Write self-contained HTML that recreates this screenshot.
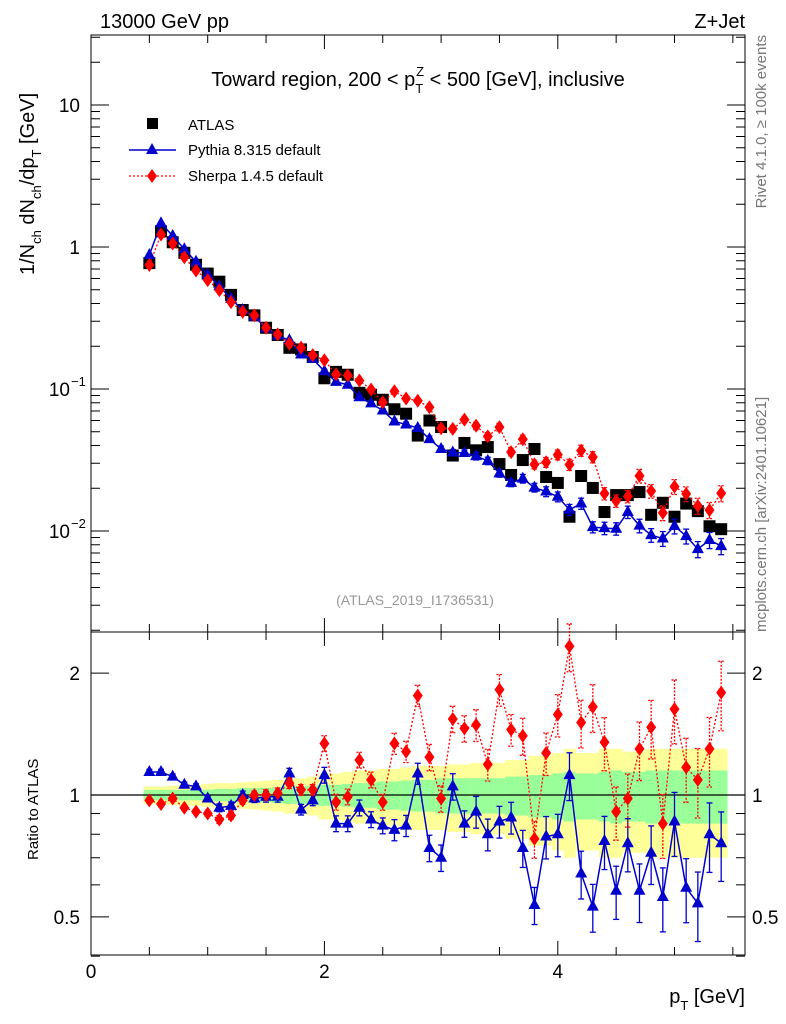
<!DOCTYPE html>
<html><head><meta charset="utf-8"><style>
html,body{margin:0;padding:0;background:#fff;}
svg{display:block;font-family:"Liberation Sans",sans-serif;}
</style></head><body>
<svg id="chart" width="786" height="1024" viewBox="0 0 786 1024" xmlns="http://www.w3.org/2000/svg">
<text x="100" y="28" font-size="20">13000 GeV pp</text>
<text x="745" y="28" font-size="20" text-anchor="end">Z+Jet</text>
<text x="418" y="86" font-size="20" text-anchor="middle">Toward region, 200 &lt; p<tspan dy="7" font-size="13">T</tspan><tspan dx="-7" dy="-17" font-size="13">Z</tspan><tspan dy="10"> &lt; 500 [GeV], inclusive</tspan></text>
<text x="415" y="605" font-size="14" fill="#999" text-anchor="middle">(ATLAS_2019_I1736531)</text>
<text transform="translate(766,35) rotate(-90)" font-size="15" fill="#777" text-anchor="end">Rivet 4.1.0, ≥ 100k events</text>
<text transform="translate(766,632) rotate(-90)" font-size="15" fill="#777">mcplots.cern.ch [arXiv:2401.10621]</text>
<text transform="translate(34,275) rotate(-90)" font-size="20">1/N<tspan dy="7" font-size="13">ch</tspan><tspan dy="-7"> dN</tspan><tspan dy="7" font-size="13">ch</tspan><tspan dy="-7">/dp</tspan><tspan dy="7" font-size="13">T</tspan><tspan dy="-7"> [GeV]</tspan></text>
<text transform="translate(38,860) rotate(-90)" font-size="15">Ratio to ATLAS</text>
<text x="745" y="1003" font-size="20" text-anchor="end">p<tspan dy="7" font-size="13">T</tspan><tspan dy="-7"> [GeV]</tspan></text>
<g id="ratioBands"></g>
<g id="grid"></g>
<g id="series"></g>
<g>
 <rect x="147" y="118" width="11" height="11" fill="#000"/>
 <text x="188" y="130" font-size="15">ATLAS</text>
 <line x1="129" y1="150" x2="176" y2="150" stroke="#00c" stroke-width="1.5"/>
 <polygon points="152,143 146,154 158,154" fill="#00c"/>
 <text x="188" y="155" font-size="15">Pythia 8.315 default</text>
 <line x1="129" y1="176" x2="176" y2="176" stroke="red" stroke-width="1.3" stroke-dasharray="2,2"/>
 <polygon points="152,169 157,176 152,183 147,176" fill="red"/>
 <text x="188" y="181" font-size="15">Sherpa 1.4.5 default</text>
</g>
</svg>
<script>
const pT = [0.5,0.6,0.7,0.8,0.9,1.0,1.1,1.2,1.3,1.4,1.5,1.6,1.7,1.8,1.9,2.0,2.1,2.2,2.3,2.4,2.5,2.6,2.7,2.8,2.9,3.0,3.1,3.2,3.3,3.4,3.5,3.6,3.7,3.8,3.9,4.0,4.1,4.2,4.3,4.4,4.5,4.6,4.7,4.8,4.9,5.0,5.1,5.2,5.3,5.4];
const atlas = [0.77,1.29,1.08,0.91,0.75,0.65,0.57,0.46,0.36,0.33,0.27,0.24,0.195,0.19,0.168,0.119,0.132,0.126,0.094,0.091,0.084,0.072,0.067,0.047,0.060,0.054,0.034,0.0417,0.037,0.039,0.0296,0.0248,0.0316,0.0378,0.024,0.0218,0.0126,0.0244,0.0201,0.0136,0.0179,0.0179,0.0188,0.013,0.0158,0.0126,0.0156,0.0138,0.0108,0.0103];
const ratioPythia = [1.14,1.14,1.11,1.06,1.05,0.98,0.93,0.94,1.0,0.98,0.99,0.99,1.13,0.92,0.97,1.12,0.85,0.85,0.93,0.87,0.84,0.82,0.84,1.13,0.74,0.70,1.05,0.85,0.91,0.80,0.86,0.88,0.74,0.535,0.79,0.80,1.12,0.64,0.53,0.77,0.58,0.76,0.58,0.72,0.56,0.86,0.59,0.54,0.80,0.76];
const ratioSherpa = [0.97,0.95,0.98,0.93,0.91,0.90,0.87,0.89,0.97,1.0,1.0,1.01,1.07,1.03,1.03,1.34,0.96,0.99,1.22,1.09,0.96,1.34,1.28,1.76,1.24,0.98,1.54,1.46,1.49,1.19,1.82,1.45,1.40,0.78,1.27,1.58,2.33,1.51,1.65,1.35,0.91,0.98,1.30,1.47,0.85,1.63,1.17,1.09,1.30,1.79];
const relErr = [0.01,0.01,0.01,0.01,0.01,0.01,0.015,0.015,0.015,0.015,0.02,0.02,0.02,0.02,0.02,0.03,0.03,0.03,0.03,0.03,0.03,0.04,0.04,0.04,0.05,0.05,0.05,0.05,0.06,0.06,0.06,0.06,0.07,0.07,0.08,0.08,0.09,0.09,0.09,0.1,0.1,0.1,0.11,0.11,0.12,0.12,0.12,0.13,0.13,0.13];
const bandGreen = [0.03,0.03,0.03,0.03,0.03,0.03,0.035,0.035,0.04,0.04,0.04,0.045,0.05,0.05,0.055,0.06,0.06,0.065,0.07,0.07,0.08,0.08,0.085,0.09,0.09,0.1,0.1,0.1,0.1,0.1,0.1,0.11,0.11,0.12,0.12,0.13,0.14,0.13,0.13,0.14,0.15,0.14,0.14,0.15,0.15,0.15,0.15,0.15,0.15,0.15];
const bandYellow = [0.05,0.05,0.055,0.06,0.06,0.065,0.07,0.07,0.075,0.08,0.085,0.09,0.1,0.1,0.11,0.13,0.13,0.14,0.15,0.15,0.16,0.16,0.17,0.18,0.18,0.18,0.19,0.19,0.2,0.2,0.2,0.22,0.22,0.25,0.25,0.27,0.3,0.27,0.27,0.3,0.3,0.28,0.28,0.3,0.3,0.3,0.3,0.3,0.3,0.3];
const xTickLabels = ["0","2","4"];
const yTickLabels = ["10","1","10","10"];
const ratioTickLabels = ["2","1","0.5"];

const NS="http://www.w3.org/2000/svg";
const L=91,R=745,T=35,MB=632,RB=955;
const X=v=>L+v*116.7;
const Y=v=>531-(Math.log10(v)+2)*142;
const YR=v=>795-Math.log10(v)*405;
function el(tag,attrs,parent){const e=document.createElementNS(NS,tag);for(const k in attrs)e.setAttribute(k,attrs[k]);parent.appendChild(e);return e;}
const svg=document.getElementById('chart');
const bands=document.getElementById('ratioBands'), grid=document.getElementById('grid'), ser=document.getElementById('series');
const bw=0.1;
pT.forEach((x,i)=>{
  const y=el('rect',{x:X(x-bw/2),width:116.7*bw+0.5,y:YR(1+bandYellow[i]),height:YR(1-bandYellow[i])-YR(1+bandYellow[i]),fill:'#ffff99'},bands);
  
  
  const g=el('rect',{x:X(x-bw/2),width:116.7*bw+0.5,y:YR(1+bandGreen[i]),height:YR(1-bandGreen[i])-YR(1+bandGreen[i]),fill:'#99ff99'},bands);
  
  
});
// frames
const f1=el('rect',{x:L,y:T,width:R-L,height:MB-T,fill:'none',stroke:'#000','stroke-width':1},grid);


const f2=el('rect',{x:L,y:MB,width:R-L,height:RB-MB,fill:'none',stroke:'#000','stroke-width':1},grid);


const one=el('line',{x1:L,x2:R,y1:YR(1),y2:YR(1),stroke:'#000','stroke-width':1.3},grid);


// x ticks
for(let v=0;v<=5.5;v+=0.5){
  const big=(Math.abs(v%2)<1e-6)?14:8;
  [[T,T+big],[MB,MB-big],[MB,MB+big],[RB,RB-big]].forEach(([a,b])=>el('line',{x1:X(v),x2:X(v),y1:a,y2:b,stroke:'#000'},grid));
}
xTickLabels.forEach((s,i)=>{const t=el('text',{x:X(i*2),y:978,'font-size':19,'text-anchor':'middle'},grid);t.textContent=s;
  
  });
// y log ticks
for(let d=-3;d<=1;d++){for(let m=1;m<10;m++){const v=m*Math.pow(10,d);const y=Y(v);if(y<T||y>MB)continue;
  const len=m==1?18:9; el('line',{x1:L,x2:L+len,y1:y,y2:y,stroke:'#000'},grid); el('line',{x1:R,x2:R-len,y1:y,y2:y,stroke:'#000'},grid);}}
[[10,"10",null],[1,"1",null],[0.1,"10","−1"],[0.01,"10","−2"]].forEach(([v,s,e])=>{
  const t=el('text',{x:e?70:80,y:Y(v)+7,'font-size':19,'text-anchor':'end'},grid);t.textContent=s;
  
  
  if(e){const sp=el('text',{x:71,y:Y(v)-3,'font-size':13},grid);sp.textContent=e;
  
  }
});
// ratio ticks
[0.4,0.5,0.6,0.7,0.8,0.9,1,2].forEach(v=>{const y=YR(v);const len=(v==0.5||v==1||v==2)?18:9;
  el('line',{x1:L,x2:L+len,y1:y,y2:y,stroke:'#000'},grid);el('line',{x1:R,x2:R-len,y1:y,y2:y,stroke:'#000'},grid);});
[2,1,0.5].forEach((v,i)=>{
  const a=el('text',{x:80,y:YR(v)+7,'font-size':19,'text-anchor':'end'},grid);a.textContent=ratioTickLabels[i];
  
  
  const b=el('text',{x:752,y:YR(v)+7,'font-size':19},grid);b.textContent=ratioTickLabels[i];
  
  
});
function tri(x,y,c,p){const s=el('polygon',{points:`${x},${y-7} ${x-6},${y+4} ${x+6},${y+4}`,fill:c},p);return s;}
function dia(x,y,c,p){return el('polygon',{points:`${x},${y-7} ${x+5},${y} ${x},${y+7} ${x-5},${y}`,fill:c},p);}
function errbar(x,y1,y2,c,p,dash){const g=el('g',{stroke:c,'stroke-width':1.3},p);if(dash)g.setAttribute('stroke-dasharray','2,1.5');
  el('line',{x1:x,x2:x,y1:y1,y2:y2},g);el('line',{x1:x-3,x2:x+3,y1:y1,y2:y1},g);el('line',{x1:x-3,x2:x+3,y1:y2,y2:y2},g);}
const pyth=pT.map((x,i)=>atlas[i]*ratioPythia[i]);
const sher=pT.map((x,i)=>atlas[i]*ratioSherpa[i]);
// main panel
pT.forEach((x,i)=>{const s=el('rect',{x:X(x)-6,y:Y(atlas[i])-6,width:12,height:12,fill:'#000'},ser);
  
  });
const pl=el('polyline',{points:pT.map((x,i)=>X(x)+','+Y(pyth[i])).join(' '),fill:'none',stroke:'#00c','stroke-width':1.5},ser);


const sl=el('polyline',{points:pT.map((x,i)=>X(x)+','+Y(sher[i])).join(' '),fill:'none',stroke:'red','stroke-width':1.3,'stroke-dasharray':'2,2'},ser);


pT.forEach((x,i)=>{
  errbar(X(x),Y(pyth[i]*(1+relErr[i])),Y(pyth[i]*(1-relErr[i])),'#00c',ser,false);
  errbar(X(x),Y(sher[i]*(1+relErr[i])),Y(sher[i]*(1-relErr[i])),'red',ser,true);
  const t=tri(X(x),Y(pyth[i]),'#00c',ser);
  
  
  const d=dia(X(x),Y(sher[i]),'red',ser);
  
  
});
// ratio panel
const rpl=el('polyline',{points:pT.map((x,i)=>X(x)+','+YR(ratioPythia[i])).join(' '),fill:'none',stroke:'#00c','stroke-width':1.5},ser);


const rsl=el('polyline',{points:pT.map((x,i)=>X(x)+','+YR(ratioSherpa[i])).join(' '),fill:'none',stroke:'red','stroke-width':1.3,'stroke-dasharray':'2,2'},ser);


pT.forEach((x,i)=>{
  const e=relErr[i]*1.5;
  errbar(X(x),YR(ratioPythia[i]*(1+e)),YR(ratioPythia[i]*(1-e)),'#00c',ser,false);
  errbar(X(x),YR(ratioSherpa[i]*(1+e)),YR(ratioSherpa[i]*(1-e)),'red',ser,true);
  const t=tri(X(x),YR(ratioPythia[i]),'#00c',ser);
  
  
  const d=dia(X(x),YR(ratioSherpa[i]),'red',ser);
  
  
});
</script>
</body></html>
